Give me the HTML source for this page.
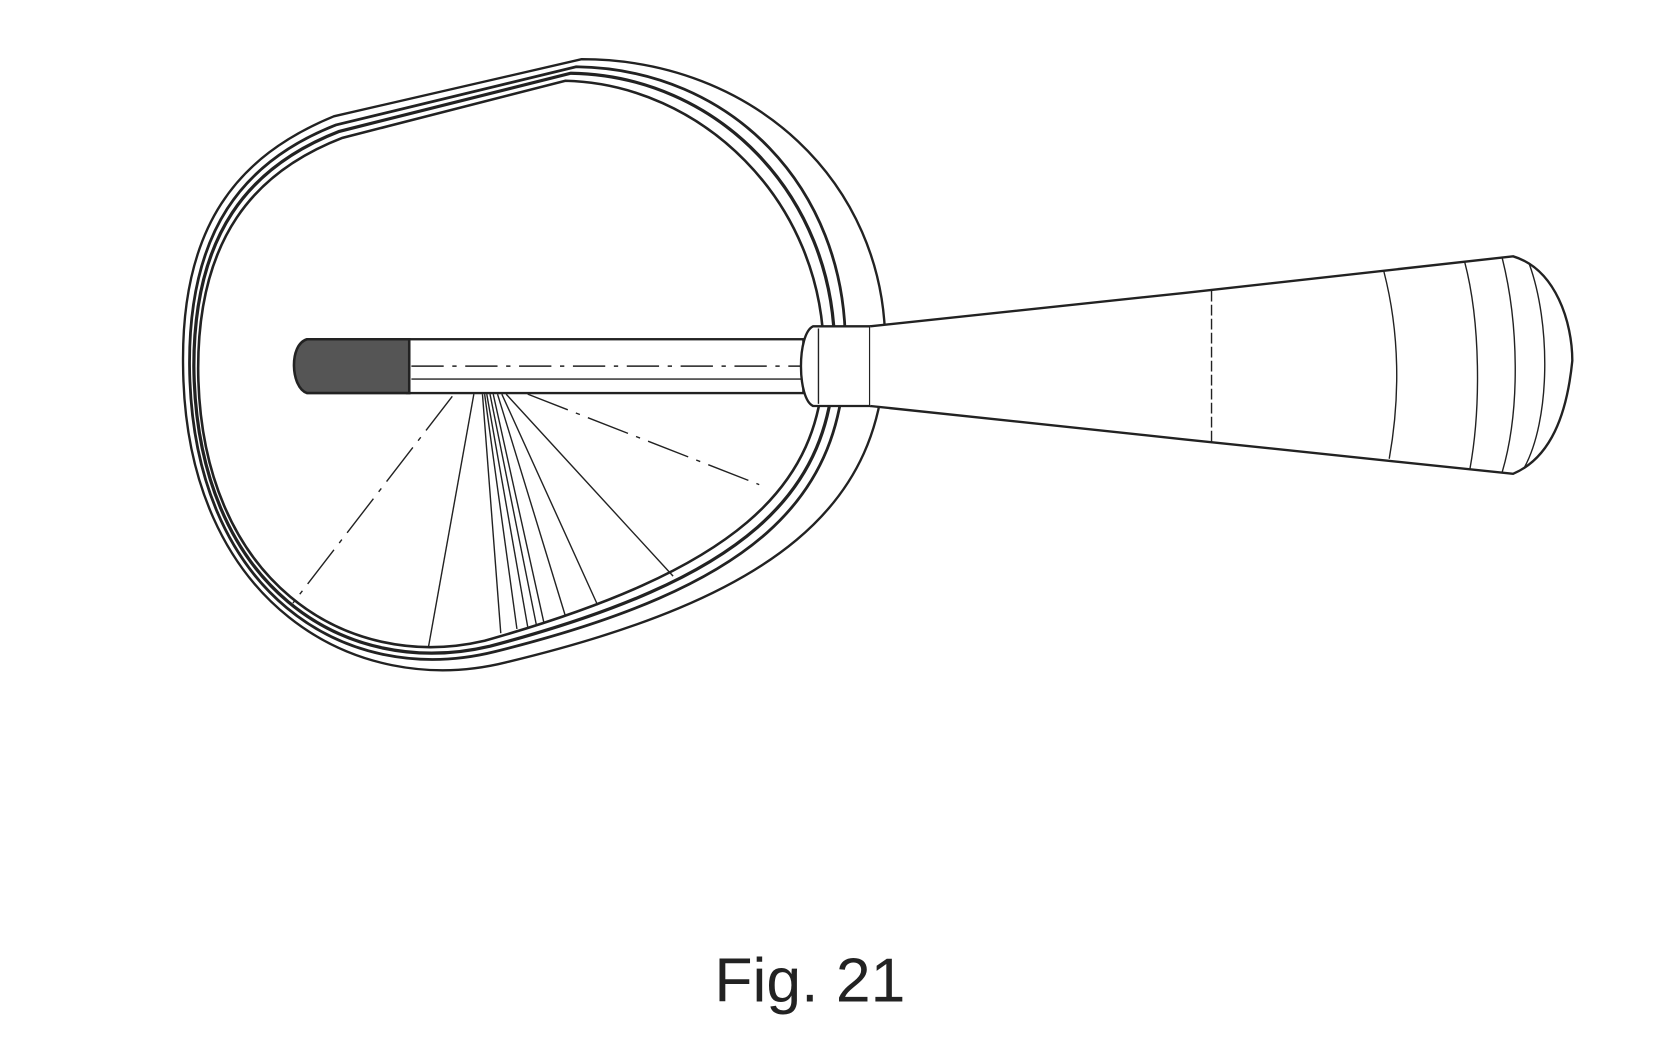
<!DOCTYPE html>
<html><head><meta charset="utf-8"><style>
html,body{margin:0;padding:0;background:#fff;width:1680px;height:1050px;overflow:hidden}
svg{display:block}
</style></head><body>
<svg width="1680" height="1050" viewBox="0 0 1560 975" preserveAspectRatio="none" xmlns="http://www.w3.org/2000/svg">
<g fill="none" stroke="#222" stroke-width="2.2">
<path d="M540,55 C700,55 822,170 822,320 C822,470 720,555 470,615 C330,650 172,560 170,340 C168,210 220,145 310,108 Z"/>
<path d="M535,62 C680,64 785,175 785,320 C785,465 700,545 460,605 C320,640 178,550 176,340 C175,215 225,150 312,116 Z" stroke-width="2.6"/>
<path d="M530,68 C665,70 775,180 775,325 C775,460 690,538 455,600 C320,632 182,545 180,340 C180,218 230,155 315,122 Z" stroke-width="3"/>
<path d="M525,75 C650,78 765,185 765,330 C765,455 680,530 450,595 C322,625 185,540 184,342 C184,222 235,160 318,128 Z" stroke-width="2.4"/>
<rect x="378" y="315" width="368" height="50" fill="#fff"/>
<line x1="382" y1="340" x2="746" y2="340" stroke-dasharray="30,8,4,8" stroke-width="1.4"/>
<line x1="382" y1="352" x2="746" y2="352" stroke-width="1.3"/>
<path d="M285,315 L380,315 L380,365 L285,365 C270,360 268,320 285,315 Z" fill="#555" stroke-width="2.4"/>
<path d="M755,303 L808,303 L808,377 L755,377 C740,370 740,310 755,303 Z" fill="#fff"/>
<line x1="760" y1="305" x2="760" y2="375" stroke-width="1.3"/>
<path d="M808,303 L1100,272 L1405,238 C1445,250 1460,300 1460,335 C1455,385 1440,425 1405,440 L1100,408 L808,377" fill="#fff"/>
<line x1="1125" y1="270" x2="1125" y2="410" stroke-width="1.3" stroke-dasharray="10,3"/>
<path d="M1285,252 C1300,310 1300,370 1290,426" stroke-width="1.3"/>
<path d="M1360,243 C1375,300 1375,380 1365,435" stroke-width="1.3"/>
<path d="M1395,240 C1410,300 1412,380 1395,438" stroke-width="1.3"/>
<path d="M1420,245 C1440,300 1440,390 1415,435" stroke-width="1.3"/>
<g stroke-width="1.3">
<line x1="420" y1="368" x2="272" y2="560" stroke-dasharray="40,8,4,8"/>
<line x1="490" y1="366" x2="705" y2="450" stroke-dasharray="40,8,4,8"/>
<line x1="440" y1="366" x2="398" y2="600"/>
<line x1="448" y1="366" x2="465" y2="588"/>
<line x1="450" y1="366" x2="480" y2="584"/>
<line x1="452" y1="366" x2="490" y2="582"/>
<line x1="455" y1="366" x2="498" y2="580"/>
<line x1="458" y1="366" x2="505" y2="578"/>
<line x1="462" y1="366" x2="525" y2="572"/>
<line x1="466" y1="366" x2="555" y2="562"/>
<line x1="470" y1="366" x2="625" y2="535"/>
</g>
</g>
<text x="752" y="930" font-family="Liberation Sans, sans-serif" font-size="58" text-anchor="middle" fill="#222">Fig. 21</text>
</svg>
</body></html>
